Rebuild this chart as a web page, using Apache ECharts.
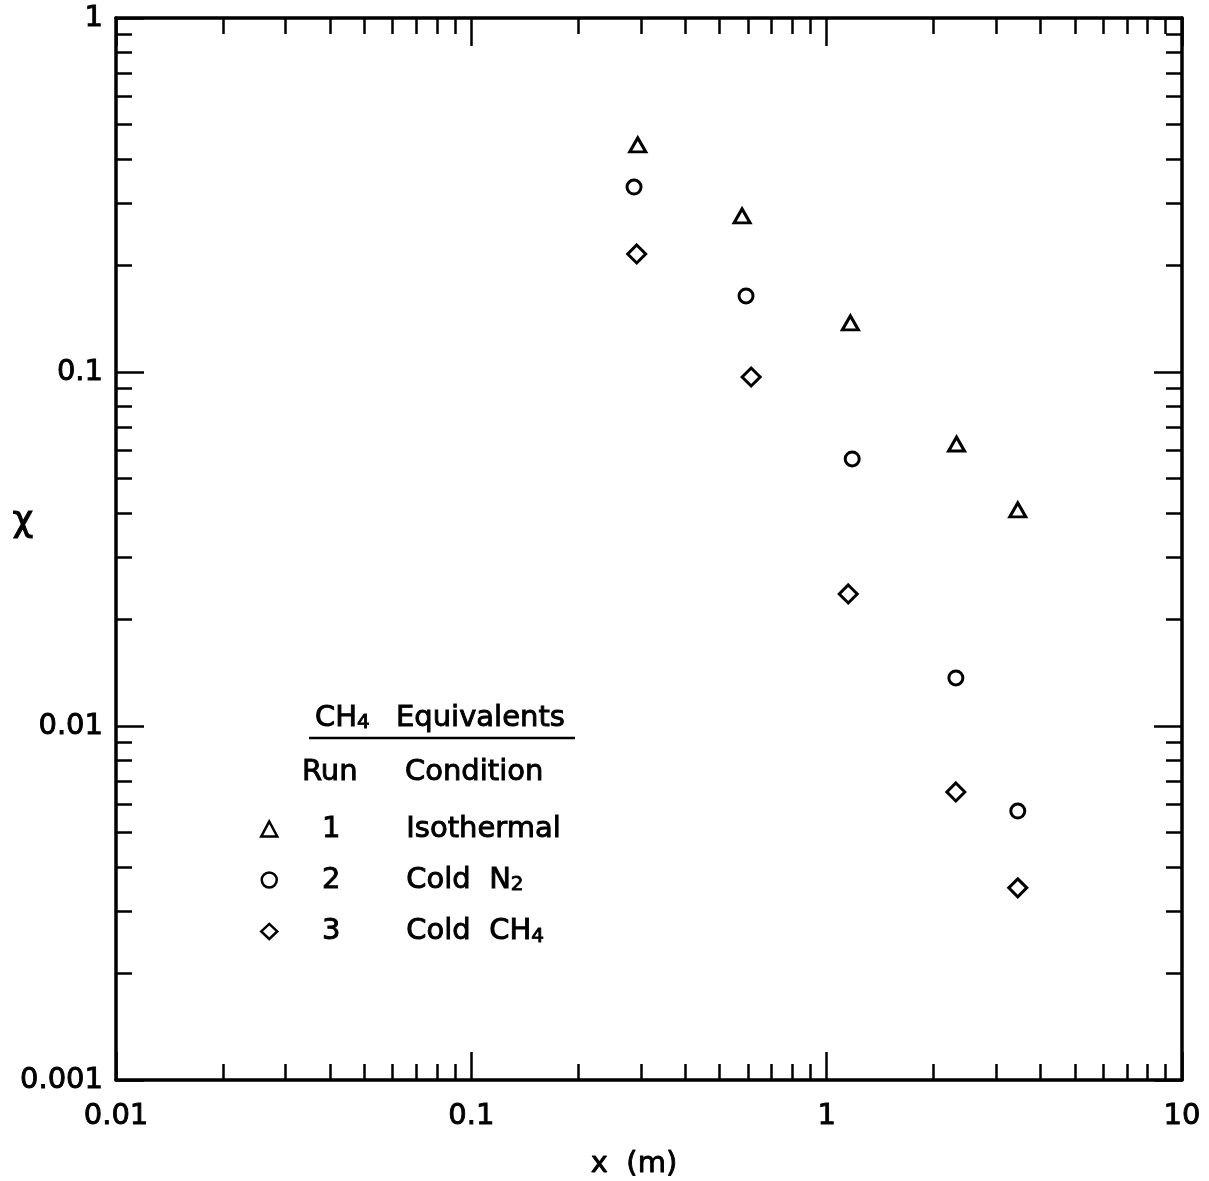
<!DOCTYPE html>
<html>
<head>
<meta charset="utf-8">
<script src="https://cdn.jsdelivr.net/npm/echarts@6/dist/echarts.min.js"></script>
<style>
html, body { margin: 0; padding: 0; background: #fff; }
#chart { width: 1209px; height: 1181px; }
</style>
</head>
<body>
<div id="chart"></div>
<script>
// run 1 - isothermal (triangles)
var xRun1 = [0.294, 0.578, 1.166, 2.32, 3.45];
var yRun1 = [0.438, 0.276, 0.1376, 0.0626, 0.0408];
// run 2 - cold N2 (circles)
var xRun2 = [0.287, 0.593, 1.18, 2.31, 3.45];
var yRun2 = [0.333, 0.164, 0.0568, 0.01367, 0.00575];
// run 3 - cold CH4 (diamonds)
var xRun3 = [0.292, 0.613, 1.15, 2.31, 3.45];
var yRun3 = [0.2155, 0.0968, 0.0236, 0.00651, 0.00349];

var runNames = ['Isothermal', 'Cold N2', 'Cold CH4'];
var runNumbers = ['1', '2', '3'];

// axis ticks
var xDecades = [0.01, 0.1, 1];
var yDecades = [0.001, 0.01, 0.1];
var minorSteps = [2, 3, 4, 5, 6, 7, 8, 9];

var FONT = 'DejaVu Sans';
var FS = 29;
// thicken the strokes a little, the original lettering is heavy
var heavy = { textBorderColor: '#000', textBorderWidth: 0.9 };

function minorTicks(decades) {
    var out = [];
    decades.forEach(function (d) {
        minorSteps.forEach(function (m) { out.push(+(d * m).toPrecision(6)); });
    });
    return out;
}

function pairs(xs, ys) {
    return xs.map(function (x, i) { return [x, ys[i]]; });
}

function txt(extra) {
    return Object.assign({ fontFamily: FONT, fontSize: FS, color: '#000' }, heavy, extra || {});
}

// graphic text helper (zrender style names)
function gText(x, y, text, size, align) {
    return {
        type: 'text', x: x, y: y,
        style: {
            text: text, fill: '#000', stroke: '#000', lineWidth: 0.9,
            font: (size || FS) + 'px "DejaVu Sans"', verticalAlign: 'middle', align: align || 'left'
        }
    };
}

// one axis per side & tick size, all on the same log scale
function logAxis(min, max, pos, len, custom) {
    var ax = {
        type: 'log',
        min: min,
        max: max,
        position: pos,
        axisLine: { show: !custom, onZero: false, lineStyle: { color: '#000', width: 3.5 } },
        axisTick: { show: true, inside: true, length: len, lineStyle: { color: '#000', width: 2.5 } },
        axisLabel: { show: false },
        splitLine: { show: false },
        minorTick: { show: false },
        minorSplitLine: { show: false }
    };
    if (custom) ax.axisTick.customValues = custom;
    return ax;
}

function fmt(v) { return String(+v.toPrecision(3)); }

var chart = echarts.init(document.getElementById('chart'));

var xMain = logAxis(0.01, 10, 'bottom', 28, null);
xMain.axisLabel = txt({ show: true, margin: 22, formatter: fmt });
xMain.name = 'x  (m)';
xMain.nameLocation = 'middle';
xMain.nameGap = 70;
xMain.nameTextStyle = txt({ padding: [0, 30, 0, 0] });

var yMain = logAxis(0.001, 1, 'left', 28, null);
yMain.axisLabel = txt({ show: true, margin: 13, formatter: fmt });

var markerStyle = { color: '#fff', borderColor: '#000', borderWidth: 3, opacity: 1 };

chart.setOption({
    backgroundColor: '#fff',
    animation: false,
    grid: { left: 116, right: 27, top: 18, bottom: 101, outerBoundsMode: 'none', containLabel: false },
    xAxis: [
        xMain,
        logAxis(0.01, 10, 'bottom', 16, minorTicks(xDecades)),
        logAxis(0.01, 10, 'top', 28, null),
        logAxis(0.01, 10, 'top', 16, minorTicks(xDecades))
    ],
    yAxis: [
        yMain,
        logAxis(0.001, 1, 'left', 16, minorTicks(yDecades)),
        logAxis(0.001, 1, 'right', 28, null),
        logAxis(0.001, 1, 'right', 16, minorTicks(yDecades))
    ],
    legend: {
        orient: 'vertical',
        left: 255,
        top: 809,
        itemWidth: 16,
        itemHeight: 15,
        itemGap: 21,
        data: runNames,
        selectedMode: false,
        itemStyle: { borderWidth: 2.5, opacity: 1 },
        textStyle: txt({
            lineHeight: 30,
            rich: {
                n: txt({ width: 98, align: 'center', lineHeight: 30 }),
                c: txt({ padding: [0, 0, 0, 26], lineHeight: 30 }),
                s: txt({ fontSize: 20, verticalAlign: 'bottom', lineHeight: 8 })
            }
        }),
        formatter: function (name) {
            var i = runNames.indexOf(name);
            var label = name;
            if (name === 'Cold N2') label = 'Cold  N}{s|2';
            if (name === 'Cold CH4') label = 'Cold  CH}{s|4';
            return '{n|' + runNumbers[i] + '}{c|' + label + '}';
        }
    },
    graphic: [
        // y axis name
        gText(23, 522, 'χ', 36, 'center'),
        // legend heading
        {
            type: 'text', x: 315, y: 718,
            style: {
                text: '{a|CH}{s|4}',
                fill: '#000', verticalAlign: 'middle', align: 'left',
                rich: {
                    a: { fontFamily: FONT, fontSize: FS, lineHeight: 30, fill: '#000', stroke: '#000', lineWidth: 0.9 },
                    s: { fontFamily: FONT, fontSize: 20, verticalAlign: 'bottom', lineHeight: 8, fill: '#000', stroke: '#000', lineWidth: 0.9 }
                }
            }
        },
        gText(396, 718, 'Equivalents'),
        { type: 'line', shape: { x1: 309, y1: 738, x2: 575, y2: 738 }, style: { stroke: '#000', lineWidth: 2.5 } },
        gText(302, 772, 'Run'),
        gText(405, 772, 'Condition')
    ],
    series: [
        {
            name: runNames[0], type: 'scatter', symbol: 'triangle', symbolSize: [16, 14],
            itemStyle: markerStyle, data: pairs(xRun1, yRun1)
        },
        {
            name: runNames[1], type: 'scatter', symbol: 'circle', symbolSize: 14,
            itemStyle: markerStyle, data: pairs(xRun2, yRun2)
        },
        {
            name: runNames[2], type: 'scatter', symbol: 'diamond', symbolSize: 18,
            itemStyle: markerStyle, data: pairs(xRun3, yRun3)
        }
    ]
});
</script>
</body>
</html>
